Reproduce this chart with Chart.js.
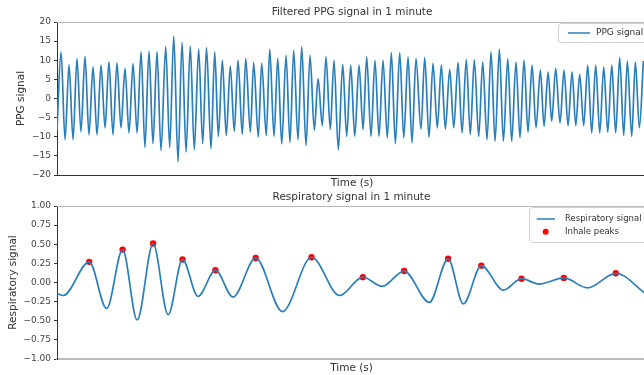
<!DOCTYPE html>
<html>
<head>
<meta charset="utf-8">
<script src="https://cdn.jsdelivr.net/npm/chart.js@4"></script>
<style>
  html, body { margin: 0; padding: 0; background: #fff; overflow: hidden; }
  .panel { position: relative; width: 650px; }
  canvas { display: block; }
</style>
</head>
<body>
<div class="panel" style="height:190px"><canvas id="ppg-chart" width="650" height="190"></canvas></div>
<div class="panel" style="height:185px"><canvas id="resp-chart" width="650" height="185"></canvas></div>
<script>
// PPG signal: local maxima and minima (time in s)
const ppgPeakTimes = [0.41, 1.23, 2.04, 2.86, 3.68, 4.50, 5.31, 6.13, 6.95, 7.77, 8.59, 9.40, 10.22, 11.11, 11.93, 12.78, 13.62, 14.48, 15.28, 16.12, 16.90, 17.71, 18.50, 19.29, 20.10, 20.92, 21.74, 22.56, 23.41, 24.19, 25.01, 25.86, 26.68, 27.49, 28.31, 29.20, 30.02, 30.87, 31.65, 32.50, 33.32, 34.17, 35.03, 35.88, 36.69, 37.58, 38.43, 39.28, 40.14, 40.99, 41.83, 42.65, 43.51, 44.36, 45.21, 46.07, 46.91, 47.73, 48.55, 49.40, 50.19, 50.97, 51.82, 52.64, 53.42, 54.24, 55.06, 55.88, 56.70, 57.51, 58.29, 59.11, 59.93];
const ppgPeakValues = [12.2, 8.8, 10.4, 11.0, 8.3, 8.7, 9.6, 9.3, 7.9, 9.1, 12.2, 12.4, 12.2, 13.6, 16.3, 14.7, 13.7, 13.0, 13.3, 12.2, 10.0, 8.5, 10.0, 10.4, 9.4, 9.2, 12.9, 10.5, 11.3, 12.6, 13.6, 11.3, 5.2, 10.9, 10.0, 8.9, 8.7, 8.7, 10.9, 10.0, 10.0, 12.0, 12.0, 10.9, 10.4, 10.7, 9.2, 8.7, 7.6, 9.4, 10.2, 10.1, 9.5, 12.2, 12.9, 10.4, 9.5, 10.0, 8.7, 7.4, 6.9, 7.9, 7.4, 7.0, 6.3, 8.7, 8.7, 8.2, 8.7, 10.7, 9.8, 9.5, 9.8];
const ppgTroughTimes = [0.00, 0.82, 1.64, 2.45, 3.27, 4.09, 4.91, 5.72, 6.54, 7.36, 8.18, 8.99, 9.81, 10.63, 11.52, 12.37, 13.19, 14.03, 14.89, 15.74, 16.49, 17.30, 18.12, 18.94, 19.76, 20.57, 21.39, 22.18, 22.97, 23.81, 24.63, 25.45, 26.30, 27.12, 27.93, 28.75, 29.61, 30.43, 31.28, 32.09, 32.91, 33.76, 34.58, 35.44, 36.28, 37.20, 38.02, 38.87, 39.69, 40.55, 41.40, 42.24, 43.10, 43.95, 44.77, 45.62, 46.47, 47.32, 48.14, 48.96, 49.78, 50.56, 51.41, 52.23, 53.02, 53.83, 54.65, 55.47, 56.29, 57.10, 57.92, 58.74, 59.52];
const ppgTroughValues = [-8.3, -10.8, -10.8, -8.7, -9.5, -9.5, -7.7, -9.5, -7.7, -9.0, -9.0, -12.8, -11.8, -13.6, -12.8, -16.5, -14.0, -13.4, -11.8, -13.1, -9.9, -9.7, -8.6, -9.4, -8.8, -10.1, -9.7, -9.9, -11.9, -11.5, -10.8, -12.3, -8.3, -7.1, -8.1, -13.4, -9.9, -9.9, -8.1, -9.9, -9.9, -10.3, -11.8, -10.3, -11.6, -8.0, -10.1, -7.7, -8.0, -7.7, -9.0, -9.4, -9.9, -10.8, -11.2, -11.2, -11.2, -10.3, -8.8, -7.7, -7.3, -5.9, -6.4, -7.1, -7.1, -7.1, -9.0, -9.0, -8.8, -9.0, -9.7, -9.9, -7.7];

// respiratory signal: turning points
const respTimes = [0.00, 0.64, 3.30, 5.08, 6.72, 8.21, 9.84, 11.38, 12.85, 14.44, 16.22, 18.02, 20.34, 23.07, 26.06, 28.93, 31.31, 33.29, 35.54, 38.12, 40.04, 41.60, 43.44, 45.69, 47.56, 49.37, 51.89, 54.30, 57.21, 60.30];
const respValues = [-0.14, -0.17, 0.27, -0.34, 0.43, -0.49, 0.51, -0.42, 0.30, -0.18, 0.16, -0.19, 0.32, -0.38, 0.33, -0.17, 0.07, -0.05, 0.15, -0.26, 0.31, -0.28, 0.22, -0.10, 0.05, -0.02, 0.06, -0.07, 0.12, -0.15];

const inhaleTimes = [3.30, 6.72, 9.84, 12.85, 16.22, 20.34, 26.06, 31.31, 35.54, 40.04, 43.44, 47.56, 51.89, 57.21];
const inhaleValues = [0.27, 0.43, 0.51, 0.30, 0.16, 0.32, 0.33, 0.07, 0.15, 0.31, 0.22, 0.05, 0.06, 0.12];

const ppgYTicks = [-20, -15, -10, -5, 0, 5, 10, 15, 20];
const respYTicks = [-1, -0.75, -0.5, -0.25, 0, 0.25, 0.5, 0.75, 1];

const FONT = "'DejaVu Sans', sans-serif";
const BLUE = "#2a7fba";
const TEXT = "#333";

const toPoints = (xs, ys) => xs.map((x, i) => ({ x, y: ys[i] }));
const minus = (s) => s.replace("-", "\u2212");

function ppgPoints() {
  return toPoints(ppgPeakTimes, ppgPeakValues)
    .concat(toPoints(ppgTroughTimes, ppgTroughValues))
    .sort((a, b) => a.x - b.x);
}

// title centred over the plot area, light top frame line, boxed legend
const plotTitle = {
  id: "plotTitle",
  afterDraw(chart, args, o) {
    const { ctx, chartArea: a } = chart;
    ctx.save();
    ctx.font = `10.5px ${FONT}`;
    ctx.fillStyle = TEXT;
    ctx.textAlign = "center";
    ctx.textBaseline = "middle";
    ctx.fillText(o.text, (a.left + a.right) / 2, o.y);
    ctx.restore();
  },
};

const frameTop = {
  id: "frameTop",
  afterDraw(chart) {
    const { ctx, chartArea: a } = chart;
    ctx.save();
    ctx.strokeStyle = "#bbb";
    ctx.lineWidth = 1.2;
    ctx.beginPath();
    ctx.moveTo(a.left, a.top + 0.5);
    ctx.lineTo(a.right, a.top + 0.5);
    ctx.stroke();
    ctx.restore();
  },
};

const boxLegend = {
  id: "boxLegend",
  afterDraw(chart, args, o) {
    if (!o || !o.display) return;
    const { ctx } = chart;
    const sets = chart.data.datasets;
    ctx.save();
    ctx.beginPath();
    ctx.roundRect(o.x + 0.5, o.y + 0.5, o.w, o.h, 3);
    ctx.fillStyle = "rgba(255,255,255,0.85)";
    ctx.fill();
    ctx.strokeStyle = "#d0d0d0";
    ctx.lineWidth = 1;
    ctx.stroke();
    ctx.font = `${o.fontSize}px ${FONT}`;
    ctx.textBaseline = "middle";
    sets.forEach((ds, i) => {
      const cy = o.y + o.firstRow + i * o.rowGap;
      if (ds.type === "scatter") {
        ctx.beginPath();
        ctx.arc(o.x + o.markX, cy, 3, 0, Math.PI * 2);
        ctx.fillStyle = ds.backgroundColor;
        ctx.fill();
      } else {
        ctx.beginPath();
        ctx.moveTo(o.x + o.lineFrom, cy);
        ctx.lineTo(o.x + o.lineTo, cy);
        ctx.strokeStyle = ds.borderColor;
        ctx.lineWidth = 1.5;
        ctx.stroke();
      }
      ctx.fillStyle = TEXT;
      ctx.fillText(ds.label, o.x + o.textX, cy);
    });
    ctx.restore();
  },
};

function makeOptions(cfg) {
  return {
    responsive: false,
    animation: false,
    layout: { padding: { left: 0, right: 3, top: cfg.top, bottom: 0 } },
    scales: {
      x: {
        type: "linear",
        min: 0,
        max: 60.3,
        ticks: { display: false },
        grid: { display: false, drawTicks: false },
        border: { display: true, color: cfg.bottomColor, width: cfg.bottomWidth },
        title: {
          display: true,
          text: "Time (s)",
          color: TEXT,
          font: { family: FONT, size: 10.5 },
          padding: { top: 0, bottom: cfg.xTitleBottom },
        },
        afterFit: (s) => { s.height = cfg.xHeight; },
      },
      y: {
        min: cfg.yTicks[0],
        max: cfg.yTicks[cfg.yTicks.length - 1],
        afterBuildTicks: (s) => { s.ticks = cfg.yTicks.map((v) => ({ value: v })); },
        ticks: {
          color: "#444",
          font: { family: FONT, size: 9 },
          padding: 3,
          callback: cfg.format,
        },
        grid: { drawOnChartArea: false, drawTicks: true, tickLength: 3, color: "#333" },
        border: { display: true, color: "#333", width: 1 },
        title: {
          display: true,
          text: cfg.yLabel,
          color: TEXT,
          font: { family: FONT, size: 10.5 },
          padding: { top: cfg.yTitleTop, bottom: 0 },
        },
        afterFit: (s) => { s.width = 57; },
      },
    },
    plugins: {
      legend: { display: false },
      tooltip: { enabled: false },
      title: { display: false },
      plotTitle: { text: cfg.title, y: cfg.titleY },
      boxLegend: cfg.legend,
    },
  };
}

new Chart(document.getElementById("ppg-chart").getContext("2d"), {
  type: "line",
  data: {
    datasets: [{
      label: "PPG signal",
      data: ppgPoints(),
      borderColor: BLUE,
      borderWidth: 1.7,
      pointRadius: 0,
      cubicInterpolationMode: "monotone",
    }],
  },
  options: makeOptions({
    top: 22,
    title: "Filtered PPG signal in 1 minute",
    titleY: 12.5,
    yLabel: "PPG signal",
    yTitleTop: 15,
    yTicks: ppgYTicks,
    format: (v) => minus(String(v)),
    xHeight: 15,
    xTitleBottom: 0.5,
    bottomColor: "#333",
    bottomWidth: 1,
    legend: { display: true, fontSize: 9, x: 558, y: 23, w: 120, h: 19, firstRow: 10, rowGap: 12, lineFrom: 10, lineTo: 32, markX: 21, textX: 38 },
  }),
  plugins: [plotTitle, frameTop, boxLegend],
});

new Chart(document.getElementById("resp-chart").getContext("2d"), {
  type: "line",
  data: {
    datasets: [
      {
        type: "line",
        label: "Respiratory signal",
        data: toPoints(respTimes, respValues),
        borderColor: BLUE,
        borderWidth: 1.7,
        pointRadius: 0,
        cubicInterpolationMode: "monotone",
      },
      {
        type: "scatter",
        label: "Inhale peaks",
        data: toPoints(inhaleTimes, inhaleValues),
        backgroundColor: "#ff0000",
        borderColor: "#ff0000",
        pointRadius: 3.2,
        pointBorderWidth: 0,
      },
    ],
  },
  options: makeOptions({
    top: 16,
    title: "Respiratory signal in 1 minute",
    titleY: 7,
    yLabel: "Respiratory signal",
    yTitleTop: 6.7,
    yTicks: respYTicks,
    format: (v) => minus(v.toFixed(2)),
    xHeight: 16,
    xTitleBottom: 0.4,
    bottomColor: "#bbb",
    bottomWidth: 2,
    legend: { display: true, fontSize: 8.5, x: 529, y: 17, w: 130, h: 35, firstRow: 12, rowGap: 12.7, lineFrom: 7.7, lineTo: 26, markX: 16.7, textX: 36 },
  }),
  plugins: [plotTitle, frameTop, boxLegend],
});
</script>
</body>
</html>
